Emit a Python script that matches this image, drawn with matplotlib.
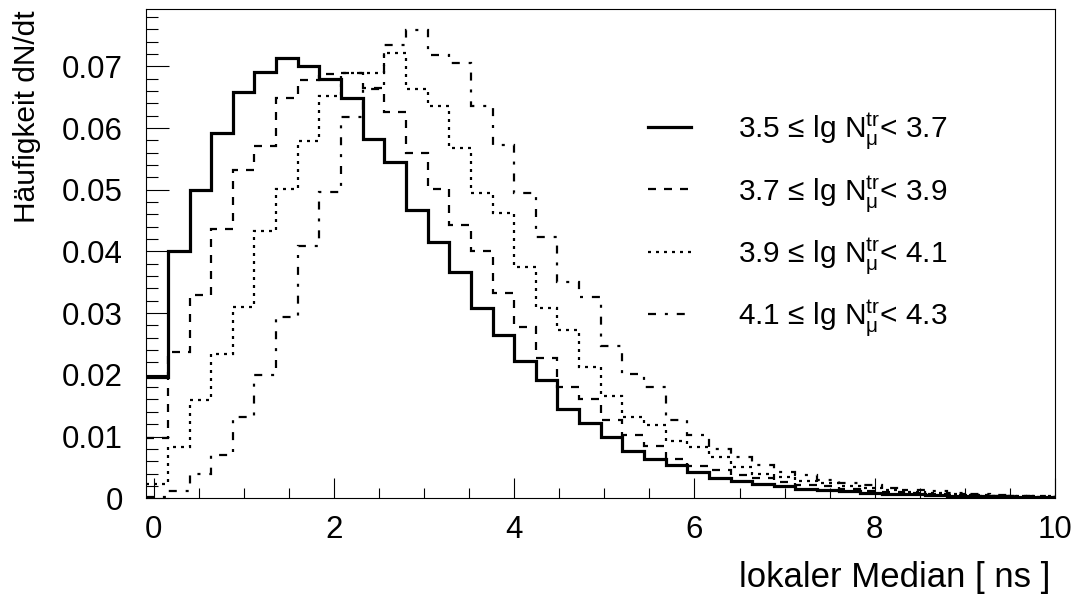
import numpy as np
import matplotlib
matplotlib.use("Agg")
import matplotlib.pyplot as plt
from matplotlib.ticker import MultipleLocator, FixedLocator, FuncFormatter
from matplotlib.lines import Line2D

plt.rcParams['font.family'] = ['Liberation Sans', 'DejaVu Sans']
plt.rcParams['mathtext.fontset'] = 'custom'
plt.rcParams['mathtext.rm'] = 'Liberation Sans'
plt.rcParams['mathtext.it'] = 'Liberation Sans:italic'

# histogram binning: 42 bins from -0.08 to 10.0 ns
bin_low = -0.08
bin_high = 10.0
n_bins = 42
edges = np.linspace(bin_low, bin_high, n_bins + 1)

labels = [r'3.5 ≤ lg $\mathregular{N_{\mu}^{tr}}$< 3.7',
          r'3.7 ≤ lg $\mathregular{N_{\mu}^{tr}}$< 3.9',
          r'3.9 ≤ lg $\mathregular{N_{\mu}^{tr}}$< 4.1',
          r'4.1 ≤ lg $\mathregular{N_{\mu}^{tr}}$< 4.3']

h_35_37 = [0.0197, 0.0401, 0.0499, 0.0592, 0.0659, 0.0691, 0.0713, 0.0700, 0.0679, 0.0648,
           0.0582, 0.0545, 0.0467, 0.0416, 0.0366, 0.0308, 0.0264, 0.0222, 0.0192, 0.0145,
           0.0122, 0.0100, 0.0077, 0.0064, 0.0054, 0.0043, 0.0033, 0.0028, 0.0023, 0.0019,
           0.0015, 0.0013, 0.0011, 0.0009, 0.0007, 0.0006, 0.0005, 0.0004, 0.0003, 0.0003,
           0.0002, 0.0002]
h_37_39 = [0.0097, 0.0237, 0.0330, 0.0437, 0.0532, 0.0571, 0.0648, 0.0678, 0.0688, 0.0689,
           0.0665, 0.0626, 0.0559, 0.0502, 0.0443, 0.0401, 0.0332, 0.0278, 0.0228, 0.0181,
           0.0161, 0.0126, 0.0102, 0.0084, 0.0063, 0.0053, 0.0046, 0.0038, 0.0032, 0.0027,
           0.0022, 0.0019, 0.0015, 0.0012, 0.0010, 0.0008, 0.0006, 0.0005, 0.0004, 0.0003,
           0.0003, 0.0002]
h_39_41 = [0.0023, 0.0083, 0.0159, 0.0234, 0.0310, 0.0433, 0.0501, 0.0579, 0.0652, 0.0689,
           0.0689, 0.0721, 0.0664, 0.0636, 0.0567, 0.0495, 0.0462, 0.0375, 0.0308, 0.0273,
           0.0213, 0.0165, 0.0132, 0.0118, 0.0092, 0.0083, 0.0067, 0.0050, 0.0040, 0.0034,
           0.0028, 0.0024, 0.0019, 0.0016, 0.0013, 0.0010, 0.0008, 0.0006, 0.0005, 0.0004,
           0.0003, 0.0003]
h_41_43 = [0.0002, 0.0011, 0.0039, 0.0070, 0.0132, 0.0200, 0.0293, 0.0409, 0.0497, 0.0618,
           0.0663, 0.0735, 0.0759, 0.0718, 0.0706, 0.0636, 0.0572, 0.0495, 0.0424, 0.0351,
           0.0326, 0.0246, 0.0202, 0.0181, 0.0127, 0.0102, 0.0079, 0.0066, 0.0054, 0.0042,
           0.0037, 0.0030, 0.0025, 0.0021, 0.0017, 0.0013, 0.0011, 0.0009, 0.0007, 0.0005,
           0.0004, 0.0003]

series = [h_35_37, h_37_39, h_39_41, h_41_43]
styles = [dict(lw=2.3, ls='-'),
          dict(lw=1.6, ls=(0, (3.6, 3.6))),
          dict(lw=1.6, ls=(0, (1.35, 2.25))),
          dict(lw=1.6, ls=(0, (3.6, 4.0, 1.35, 4.0)))]

W, H = 1080, 598
fig = plt.figure(figsize=(W / 100, H / 100), dpi=100)
ax = fig.add_axes([146.3 / W, 1 - 498.2 / H, (1055.1 - 146.3) / W, (498.2 - 9) / H])

handles = []
for vals, st, lab in zip(series, styles, labels):
    ax.stairs(vals, edges, baseline=None, color='black', linewidth=st['lw'],
              linestyle=st['ls'])
    handles.append(Line2D([], [], color='black', linewidth=st['lw'], linestyle=st['ls']))

ax.set_xlim(bin_low, bin_high)
ax.set_ylim(0, 0.0793)

ax.xaxis.set_major_locator(FixedLocator([0, 2, 4, 6, 8, 10]))
ax.xaxis.set_minor_locator(MultipleLocator(0.5))
ax.yaxis.set_major_locator(MultipleLocator(0.01))
ax.yaxis.set_minor_locator(MultipleLocator(0.002))
ax.yaxis.set_major_formatter(FuncFormatter(lambda v, p: '0' if abs(v) < 1e-9 else f'{v:.2f}'))
ax.xaxis.set_major_formatter(FuncFormatter(lambda v, p: f'{v:g}'))

fs_tick = 22.5
fs = 21.5
ax.tick_params(axis='both', which='both', direction='in', top=False, right=False,
               width=0.8, labelsize=fs_tick)
ax.tick_params(axis='x', which='major', length=14.5, pad=12)
ax.tick_params(axis='x', which='minor', length=7.2)
ax.tick_params(axis='y', which='major', length=16.5, pad=17)
ax.tick_params(axis='y', which='minor', length=8.6)
for s in ax.spines.values():
    s.set_linewidth(0.8)

fig.text(27 / W, 1 - 10 / H, 'Häufigkeit dN/dt', rotation=90, ha='center', va='top',
         fontsize=fs)
fig.text(1050 / W, 1 - 577 / H, 'lokaler Median [ ns ]', ha='right', va='center',
         fontsize=25)

leg = ax.legend(handles, labels, loc='upper left', frameon=False, fontsize=fs,
                bbox_to_anchor=(648 / W, 1 - 110 / H), bbox_transform=fig.transFigure,
                borderaxespad=0, borderpad=0, handlelength=1.45, handletextpad=1.55,
                labelspacing=0.72)

fig.savefig('out.png', dpi=100)
